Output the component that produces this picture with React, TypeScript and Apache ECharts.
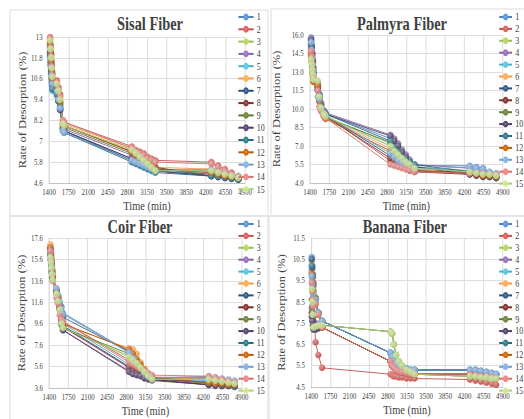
import React, { useEffect, useRef } from 'react';
import * as echarts from 'echarts';

const SERIES_NAMES = ['1', '2', '3', '4', '5', '6', '7', '8', '9', '10', '11', '12', '13', '14', '15'];
const SERIES_COLORS = ['#4F81BD', '#C0504D', '#9BBB59', '#8064A2', '#4BACC6', '#F79646', '#2C4D75', '#772C2A', '#5F7530', '#4D3B62', '#276A7C', '#B65708', '#729ACA', '#CD7371', '#AFC97A'];

const TIME_MIN = 1400;
const TIME_MAX = 4900;
const TIME_STEP = 350;

const SISAL_Y_TICKS = [4.6, 5.8, 7, 8.2, 9.4, 10.6, 11.8, 13];
const PALMYRA_Y_TICKS = [4, 5.5, 7, 8.5, 10, 11.5, 13, 14.5, 16];
const COIR_Y_TICKS = [3.6, 5.6, 7.6, 9.6, 11.6, 13.6, 15.6, 17.6];
const BANANA_Y_TICKS = [4.5, 5.5, 6.5, 7.5, 8.5, 9.5, 10.5, 11.5];

const SISAL_TIMES = [1420, 1430, 1440, 1450, 1460, 1540, 1570, 1600, 1650, 1670, 2880, 2950, 3020, 3090, 3160, 3230, 3300, 4300, 4420, 4540, 4660, 4780];
const SISAL_RATES = [
  [12.4, 11.9, 11.4, 10.9, 10.4, 10.0, 9.5, 9.0, 7.8, 7.6, 6.0, 5.9, 5.8, 5.7, 5.6, 5.5, 5.4, 5.3, 5.2, 5.1, 5.0, 4.9],
  [13.0, 12.5, 12.0, 11.4, 10.9, 10.5, 10.1, 9.7, 8.2, 8.1, 6.7, 6.5, 6.4, 6.3, 6.1, 6.0, 5.9, 5.8, 5.6, 5.4, 5.2, 5.0],
  [12.8, 12.2, 11.7, 11.1, 10.6, 10.2, 9.8, 9.4, 8.0, 7.9, 6.5, 6.3, 6.1, 5.9, 5.7, 5.5, 5.3, 5.3, 5.2, 5.1, 5.0, 4.9],
  [12.2, 11.7, 11.2, 10.7, 10.3, 9.9, 9.4, 8.9, 7.8, 7.7, 6.2, 6.0, 5.9, 5.8, 5.6, 5.5, 5.4, 5.2, 5.1, 5.0, 4.9, 4.9],
  [11.8, 11.3, 10.8, 10.3, 9.9, 9.6, 9.4, 9.0, 7.6, 7.5, 5.9, 5.8, 5.7, 5.6, 5.5, 5.4, 5.3, 5.1, 5.0, 4.9, 4.9, 4.8],
  [12.9, 12.3, 11.8, 11.2, 10.7, 10.3, 9.9, 9.5, 8.1, 8.0, 6.6, 6.4, 6.2, 6.0, 5.8, 5.6, 5.5, 5.4, 5.3, 5.2, 5.1, 5.0],
  [12.0, 11.5, 11.0, 10.6, 10.2, 9.8, 9.3, 8.8, 7.7, 7.6, 5.9, 5.8, 5.7, 5.6, 5.5, 5.4, 5.3, 5.0, 4.95, 4.9, 4.85, 4.8],
  [12.6, 12.1, 11.6, 11.0, 10.5, 10.1, 9.7, 9.2, 8.0, 7.9, 6.4, 6.2, 6.1, 5.9, 5.8, 5.6, 5.5, 5.0, 4.95, 4.9, 4.85, 4.8],
  [12.5, 12.0, 11.5, 11.0, 10.5, 10.1, 9.6, 9.1, 7.9, 7.8, 6.3, 6.1, 6.0, 5.8, 5.7, 5.5, 5.4, 5.1, 5.0, 4.95, 4.9, 4.85],
  [12.1, 11.6, 11.1, 10.6, 10.2, 9.8, 9.3, 8.8, 7.7, 7.6, 6.0, 5.9, 5.8, 5.7, 5.6, 5.4, 5.3, 5.0, 4.95, 4.9, 4.85, 4.8],
  [11.9, 11.4, 10.9, 10.4, 10.0, 9.7, 9.3, 8.9, 7.6, 7.5, 5.8, 5.7, 5.6, 5.5, 5.4, 5.3, 5.2, 5.0, 4.95, 4.9, 4.85, 4.8],
  [12.7, 12.2, 11.6, 11.1, 10.6, 10.2, 9.8, 9.3, 8.0, 7.9, 6.4, 6.2, 6.0, 5.9, 5.7, 5.6, 5.4, 5.2, 5.1, 5.0, 4.95, 4.9],
  [12.3, 11.8, 11.3, 10.8, 10.3, 9.9, 9.4, 8.9, 7.6, 7.5, 5.9, 5.8, 5.7, 5.6, 5.5, 5.4, 5.3, 5.4, 5.3, 5.2, 5.1, 5.0],
  [12.9, 12.4, 11.9, 11.3, 10.8, 10.4, 10.0, 9.6, 8.2, 8.1, 6.6, 6.4, 6.3, 6.2, 6.0, 5.9, 5.8, 5.7, 5.5, 5.3, 5.1, 4.95],
  [12.8, 12.3, 11.8, 11.2, 10.7, 10.3, 9.9, 9.4, 8.0, 7.9, 6.5, 6.3, 6.1, 5.9, 5.7, 5.5, 5.3, 5.3, 5.2, 5.1, 5.0, 4.9],
];

const PALMYRA_TIMES = [1420, 1430, 1440, 1450, 1460, 1540, 1570, 1600, 1650, 1680, 2860, 2930, 3000, 3070, 3140, 3210, 3300, 4300, 4420, 4540, 4660, 4780];
const PALMYRA_RATES = [
  [15.8, 15.2, 14.6, 14.0, 13.4, 12.0, 11.0, 10.4, 9.8, 9.6, 7.6, 7.2, 6.8, 6.4, 6.0, 5.7, 5.4, 5.4, 5.3, 5.2, 4.9, 4.7],
  [14.8, 14.3, 13.8, 13.3, 12.8, 11.8, 11.2, 10.3, 9.7, 9.5, 5.8, 5.6, 5.4, 5.3, 5.2, 5.1, 5.0, 4.9, 4.9, 4.8, 4.8, 4.7],
  [14.2, 13.7, 13.2, 12.8, 12.4, 12.2, 11.0, 10.2, 9.6, 9.4, 7.2, 6.8, 6.5, 6.2, 5.9, 5.6, 5.3, 5.0, 4.9, 4.8, 4.7, 4.6],
  [15.7, 15.1, 14.5, 13.9, 13.3, 12.1, 11.2, 10.5, 9.9, 9.7, 7.9, 7.6, 7.2, 6.7, 6.3, 5.9, 5.5, 5.2, 5.1, 5.0, 4.8, 4.6],
  [15.0, 14.5, 13.9, 13.4, 12.9, 11.9, 11.0, 10.2, 9.6, 9.4, 7.0, 6.7, 6.4, 6.1, 5.8, 5.5, 5.3, 5.0, 4.9, 4.8, 4.7, 4.6],
  [14.5, 14.0, 13.5, 12.9, 12.4, 11.9, 10.8, 10.0, 9.5, 9.3, 6.8, 6.5, 6.2, 5.9, 5.6, 5.3, 5.1, 4.9, 4.8, 4.7, 4.7, 4.6],
  [15.5, 14.9, 14.3, 13.7, 13.1, 11.5, 10.9, 10.1, 9.7, 9.5, 6.2, 6.0, 5.8, 5.6, 5.4, 5.2, 5.0, 4.8, 4.7, 4.6, 4.5, 4.5],
  [15.2, 14.6, 14.0, 13.4, 12.9, 11.6, 10.7, 10.0, 9.6, 9.4, 6.0, 5.8, 5.6, 5.4, 5.2, 5.0, 4.9, 4.7, 4.6, 4.5, 4.5, 4.4],
  [14.6, 14.1, 13.6, 13.0, 12.5, 11.7, 10.6, 9.9, 9.5, 9.3, 7.3, 7.0, 6.7, 6.3, 6.0, 5.6, 5.3, 4.8, 4.7, 4.6, 4.5, 4.5],
  [15.6, 15.0, 14.4, 13.8, 13.2, 11.8, 11.0, 10.3, 9.8, 9.6, 7.8, 7.4, 7.0, 6.5, 6.1, 5.7, 5.3, 4.7, 4.6, 4.5, 4.5, 4.4],
  [15.3, 14.7, 14.1, 13.5, 13.0, 11.9, 11.1, 10.4, 9.8, 9.6, 7.4, 6.9, 6.5, 6.1, 5.9, 5.7, 5.5, 4.9, 4.8, 4.7, 4.6, 4.5],
  [14.4, 13.9, 13.3, 12.8, 12.2, 11.9, 10.6, 9.9, 9.4, 9.2, 6.6, 6.3, 6.0, 5.7, 5.4, 5.2, 5.0, 4.8, 4.7, 4.6, 4.6, 4.5],
  [15.4, 14.8, 14.2, 13.6, 13.1, 11.0, 10.8, 10.1, 9.7, 9.5, 6.4, 6.1, 5.8, 5.6, 5.4, 5.2, 5.1, 5.3, 5.2, 5.1, 4.9, 4.8],
  [14.7, 14.2, 13.7, 13.2, 12.7, 11.5, 10.2, 9.8, 9.5, 9.3, 5.5, 5.4, 5.3, 5.2, 5.1, 5.0, 4.9, 4.8, 4.8, 4.8, 4.7, 4.7],
  [14.0, 13.6, 13.2, 12.8, 12.4, 12.3, 11.0, 10.1, 9.6, 9.4, 7.0, 6.6, 6.3, 6.0, 5.7, 5.5, 5.2, 4.9, 4.8, 4.7, 4.7, 4.6],
];

const COIR_TIMES = [1420, 1430, 1440, 1450, 1460, 1530, 1560, 1590, 1620, 1650, 2850, 2920, 2990, 3060, 3130, 3200, 3270, 4300, 4420, 4540, 4660, 4770];
const COIR_RATES = [
  [16.2, 15.6, 15.0, 14.4, 13.8, 12.8, 12.2, 11.6, 11.2, 10.6, 7.0, 6.4, 5.8, 5.4, 5.0, 4.7, 4.5, 4.5, 4.4, 4.3, 4.2, 4.1],
  [16.8, 16.2, 15.5, 14.8, 14.1, 12.7, 12.0, 11.3, 10.4, 9.8, 6.2, 5.8, 5.5, 5.2, 5.0, 4.8, 4.6, 4.6, 4.5, 4.4, 4.3, 4.2],
  [16.0, 15.5, 15.0, 14.4, 13.9, 12.5, 11.8, 11.0, 9.8, 9.2, 6.6, 6.3, 6.0, 5.6, 5.2, 4.8, 4.5, 4.4, 4.3, 4.2, 4.1, 4.0],
  [16.4, 15.8, 15.1, 14.4, 13.7, 12.4, 11.7, 10.9, 9.6, 9.0, 5.2, 5.0, 4.9, 4.8, 4.6, 4.5, 4.4, 4.2, 4.1, 4.0, 3.9, 3.9],
  [16.3, 15.7, 15.1, 14.4, 13.8, 12.6, 11.9, 11.2, 10.2, 9.6, 5.8, 5.5, 5.2, 5.0, 4.8, 4.6, 4.5, 4.3, 4.2, 4.1, 4.0, 3.9],
  [17.0, 16.4, 15.7, 15.0, 14.3, 12.9, 12.2, 11.4, 10.0, 9.5, 7.3, 7.2, 6.8, 6.0, 5.4, 4.9, 4.6, 4.4, 4.3, 4.2, 4.1, 4.0],
  [16.5, 15.9, 15.2, 14.5, 13.9, 12.7, 12.0, 11.2, 10.0, 9.4, 5.6, 5.3, 5.1, 4.9, 4.7, 4.5, 4.4, 3.9, 3.9, 3.8, 3.8, 3.8],
  [16.6, 16.0, 15.3, 14.6, 13.9, 12.6, 11.9, 11.1, 9.9, 9.3, 5.5, 5.2, 5.0, 4.8, 4.6, 4.5, 4.4, 3.9, 3.9, 3.8, 3.8, 3.8],
  [16.1, 15.5, 14.9, 14.3, 13.7, 12.5, 11.8, 11.0, 9.7, 9.2, 6.8, 6.4, 6.0, 5.6, 5.2, 4.8, 4.5, 4.0, 3.9, 3.9, 3.8, 3.8],
  [16.4, 15.8, 15.1, 14.5, 13.8, 12.4, 11.6, 10.9, 9.5, 9.0, 5.1, 4.9, 4.8, 4.7, 4.5, 4.4, 4.3, 3.9, 3.8, 3.8, 3.8, 3.7],
  [16.2, 15.6, 15.0, 14.3, 13.7, 12.7, 12.1, 11.4, 10.6, 10.2, 7.0, 6.5, 6.0, 5.5, 5.0, 4.7, 4.5, 4.1, 4.0, 3.9, 3.9, 3.8],
  [16.7, 16.1, 15.4, 14.7, 14.0, 12.8, 12.1, 11.3, 10.1, 9.6, 7.2, 6.8, 6.3, 5.8, 5.3, 4.9, 4.6, 4.1, 4.0, 4.0, 3.9, 3.9],
  [16.3, 15.7, 15.0, 14.3, 13.6, 12.9, 12.3, 11.6, 11.0, 10.5, 6.9, 6.4, 5.9, 5.4, 5.0, 4.7, 4.5, 4.7, 4.6, 4.5, 4.4, 4.3],
  [16.4, 15.6, 14.8, 14.2, 13.6, 12.0, 11.5, 10.4, 10.0, 9.8, 6.0, 5.8, 5.6, 5.4, 5.2, 5.0, 4.8, 4.7, 4.6, 4.4, 4.3, 4.1],
  [15.8, 15.3, 14.8, 14.2, 13.7, 12.4, 11.7, 10.9, 9.6, 9.2, 6.5, 6.2, 5.9, 5.5, 5.1, 4.7, 4.4, 4.4, 4.3, 4.2, 4.1, 4.0],
];

const BANANA_TIMES = [1410, 1420, 1430, 1440, 1480, 1530, 1600, 2850, 2880, 2910, 2950, 3000, 3060, 3140, 3220, 3290, 4300, 4400, 4500, 4600, 4700, 4780];
const BANANA_RATES = [
  [10.6, 10.2, 9.8, 9.4, 8.6, 8.0, 7.6, 6.1, 5.9, 5.7, 5.6, 5.5, 5.4, 5.35, 5.3, 5.3, 5.3, 5.3, 5.25, 5.2, 5.15, 5.1],
  [10.0, 9.6, 9.2, 8.8, 6.6, 6.0, 5.4, 5.1, 5.05, 5.0, 5.0, 4.95, 4.95, 4.9, 4.9, 4.9, 4.85, 4.8, 4.75, 4.7, 4.65, 4.6],
  [9.7, 9.4, 9.1, 8.9, 8.7, 8.0, 7.4, 7.1, 7.0, 6.5, 6.0, 5.7, 5.5, 5.3, 5.2, 5.1, 5.0, 5.0, 4.95, 4.95, 4.9, 4.9],
  [8.2, 8.0, 7.8, 7.6, 7.5, 7.4, 7.3, 5.7, 5.5, 5.4, 5.3, 5.25, 5.2, 5.15, 5.1, 5.1, 5.1, 5.05, 5.0, 5.0, 4.95, 4.9],
  [9.9, 9.5, 9.1, 8.7, 8.6, 8.0, 7.6, 6.1, 5.9, 5.7, 5.6, 5.5, 5.4, 5.35, 5.3, 5.3, 5.3, 5.3, 5.25, 5.2, 5.15, 5.1],
  [10.4, 10.0, 9.6, 9.2, 8.4, 7.9, 7.3, 5.7, 5.5, 5.4, 5.3, 5.25, 5.2, 5.15, 5.1, 5.1, 5.1, 5.05, 5.0, 5.0, 4.95, 4.9],
  [10.5, 10.1, 9.7, 9.3, 8.6, 8.0, 7.6, 6.1, 5.9, 5.7, 5.6, 5.5, 5.4, 5.35, 5.3, 5.3, 5.3, 5.3, 5.25, 5.2, 5.15, 5.1],
  [8.0, 7.8, 7.6, 7.4, 7.4, 7.35, 7.3, 5.7, 5.5, 5.4, 5.3, 5.25, 5.2, 5.15, 5.1, 5.1, 5.1, 5.05, 5.0, 5.0, 4.95, 4.9],
  [8.6, 8.3, 8.0, 7.8, 8.7, 8.0, 7.4, 7.1, 7.0, 6.5, 6.0, 5.7, 5.5, 5.3, 5.2, 5.1, 5.0, 5.0, 4.95, 4.95, 4.9, 4.9],
  [7.8, 7.6, 7.4, 7.2, 7.2, 7.25, 7.3, 5.7, 5.5, 5.4, 5.3, 5.25, 5.2, 5.15, 5.1, 5.1, 5.1, 5.05, 5.0, 5.0, 4.95, 4.9],
  [10.2, 9.8, 9.4, 9.0, 8.6, 8.0, 7.6, 6.1, 5.9, 5.7, 5.6, 5.5, 5.4, 5.35, 5.3, 5.3, 5.3, 5.3, 5.25, 5.2, 5.15, 5.1],
  [9.8, 9.4, 9.0, 8.6, 8.4, 7.9, 7.3, 5.7, 5.5, 5.4, 5.3, 5.25, 5.2, 5.15, 5.1, 5.1, 5.1, 5.05, 5.0, 5.0, 4.95, 4.9],
  [9.7, 9.3, 8.9, 8.5, 8.6, 8.0, 7.6, 6.1, 5.9, 5.7, 5.6, 5.5, 5.4, 5.35, 5.3, 5.3, 5.3, 5.3, 5.25, 5.2, 5.15, 5.1],
  [9.4, 9.0, 8.6, 8.3, 8.4, 7.9, 7.3, 5.7, 5.5, 5.4, 5.3, 5.25, 5.2, 5.15, 5.1, 5.1, 5.1, 5.05, 5.0, 5.0, 4.95, 4.9],
  [9.1, 8.5, 7.9, 7.3, 7.35, 7.4, 7.4, 7.1, 7.0, 6.5, 6.0, 5.7, 5.5, 5.3, 5.2, 5.1, 5.0, 5.0, 4.95, 4.95, 4.9, 4.9],
];

// horizontal squeeze of the whole figure (the reference is compressed sideways)
const SQUEEZE = 0.8;
const PAGE_W = 524;
const PAGE_H = 419;
const CHART_W = PAGE_W / SQUEEZE;

const FONT = "'Liberation Serif', 'Times New Roman', serif";
const TEXT_COLOR = '#404040';

const PANELS = [
  {
    title: 'Sisal Fiber', times: SISAL_TIMES, rates: SISAL_RATES, yTicks: SISAL_Y_TICKS, fixed: false,
    grid: { left: 61.25, top: 37, width: 245, height: 146 }, titleX: 187.5, titleY: 15,
    legend: { left: 297, top: 12, gap: 2.3, w: 19 }, border: { x: 12.5, y: 10, w: 322.5, h: 206 }, nameGap: 22,
  },
  {
    title: 'Palmyra Fiber', times: PALMYRA_TIMES, rates: PALMYRA_RATES, yTicks: PALMYRA_Y_TICKS, fixed: true,
    grid: { left: 387.5, top: 35, width: 241, height: 148 }, titleX: 502.5, titleY: 15,
    legend: { left: 623, top: 12, gap: 1.9, w: 16 }, border: { x: 338.75, y: 9, w: 330, h: 207 }, nameGap: 35,
  },
  {
    title: 'Coir Fiber', times: COIR_TIMES, rates: COIR_RATES, yTicks: COIR_Y_TICKS, fixed: false,
    grid: { left: 61.6, top: 238, width: 240.5, height: 152 }, titleX: 175, titleY: 218,
    legend: { left: 297, top: 219, gap: 1.9, w: 19 }, border: { x: 12.5, y: 216, w: 322.5, h: 210 }, nameGap: 28.5,
  },
  {
    title: 'Banana Fiber', times: BANANA_TIMES, rates: BANANA_RATES, yTicks: BANANA_Y_TICKS, fixed: false,
    grid: { left: 389, top: 238, width: 239.5, height: 149 }, titleX: 506, titleY: 218,
    legend: { left: 623, top: 219, gap: 1.9, w: 16 }, border: { x: 336.25, y: 216, w: 330, h: 210 }, nameGap: 30.5,
  },
];

function buildOption() {
  const grids: any[] = [];
  const xAxes: any[] = [];
  const yAxes: any[] = [];
  const titles: any[] = [];
  const legends: any[] = [];
  const series: any[] = [];
  const graphics: any[] = [];

  PANELS.forEach((p, gi) => {
    graphics.push({
      type: 'rect', silent: true, z: -10,
      shape: { x: p.border.x, y: p.border.y, width: p.border.w, height: p.border.h },
      style: { fill: 'none', stroke: '#d9d9d9', lineWidth: 1 },
    });
    grids.push({ left: p.grid.left, top: p.grid.top, width: p.grid.width, height: p.grid.height, containLabel: false });
    titles.push({
      text: p.title, left: p.titleX, top: p.titleY, textAlign: 'center', padding: 0,
      textStyle: { fontFamily: FONT, fontSize: 18, fontWeight: 'bold', color: TEXT_COLOR },
    });
    legends.push({
      orient: 'vertical', left: p.legend.left, top: p.legend.top, padding: 0,
      itemWidth: p.legend.w, itemHeight: 6, itemGap: p.legend.gap,
      data: SERIES_NAMES,
      textStyle: { fontFamily: FONT, fontSize: 10, lineHeight: 10, color: TEXT_COLOR, padding: [0, 0, 0, -1] },
      selectedMode: false,
    });
    xAxes.push({
      type: 'value', gridIndex: gi, min: TIME_MIN, max: TIME_MAX, interval: TIME_STEP,
      name: 'Time (min)', nameLocation: 'middle', nameGap: 17,
      nameTextStyle: { fontFamily: FONT, fontSize: 13, color: TEXT_COLOR },
      axisLine: { show: true, lineStyle: { color: '#bfbfbf', width: 1 } },
      axisTick: { show: false },
      axisLabel: { fontFamily: FONT, fontSize: 8.5, color: TEXT_COLOR, margin: 5, formatter: (v: number) => String(v) },
      splitLine: { show: true, lineStyle: { color: '#d9d9d9', width: 1 } },
    });
    const fixed = p.fixed;
    yAxes.push({
      type: 'value', gridIndex: gi, min: p.yTicks[0], max: p.yTicks[p.yTicks.length - 1],
      name: 'Rate of Desorption (%)', nameLocation: 'middle', nameGap: p.nameGap,
      nameTextStyle: { fontFamily: FONT, fontSize: 12.5, color: TEXT_COLOR },
      axisLine: { show: true, lineStyle: { color: '#d9d9d9', width: 1 } },
      axisTick: { show: false, customValues: p.yTicks },
      axisLabel: {
        customValues: p.yTicks, fontFamily: FONT, fontSize: 8.5, color: TEXT_COLOR, margin: 8,
        formatter: (v: number) => (fixed ? v.toFixed(1) : String(Math.round(v * 10) / 10)),
      },
      splitLine: { show: true, lineStyle: { color: '#d9d9d9', width: 1 } },
    });
    p.rates.forEach((vals, k) => {
      const base = SERIES_COLORS[k];
      series.push({
        type: 'line', name: SERIES_NAMES[k], xAxisIndex: gi, yAxisIndex: gi,
        data: p.times.map((t, i) => [t, vals[i]]),
        symbol: 'circle', symbolSize: [7.5, 6], clip: false,
        lineStyle: { width: 1, color: base },
        itemStyle: {
          color: new echarts.graphic.RadialGradient(0.35, 0.3, 0.75, [
            { offset: 0, color: echarts.color.lift(base, 0.45) },
            { offset: 1, color: base },
          ]),
          borderColor: echarts.color.lift(base, -0.2),
          borderWidth: 0.5,
        },
        emphasis: { disabled: true },
      });
    });
  });

  return {
    animation: false,
    backgroundColor: '#ffffff',
    title: titles,
    legend: legends,
    grid: grids,
    xAxis: xAxes,
    yAxis: yAxes,
    series,
    graphic: graphics,
  };
}

export default function App() {
  const ref = useRef<HTMLDivElement>(null);
  useEffect(() => {
    if (!ref.current) return;
    const chart = echarts.init(ref.current, undefined, { renderer: 'svg' });
    chart.setOption(buildOption() as any);
    return () => chart.dispose();
  }, []);
  return (
    <div style={{ position: 'absolute', left: 0, top: 0, width: PAGE_W, height: PAGE_H, overflow: 'hidden', background: '#fff' }}>
      <div
        ref={ref}
        style={{ width: CHART_W, height: PAGE_H, transform: `scaleX(${SQUEEZE})`, transformOrigin: '0 0' }}
      />
    </div>
  );
}
